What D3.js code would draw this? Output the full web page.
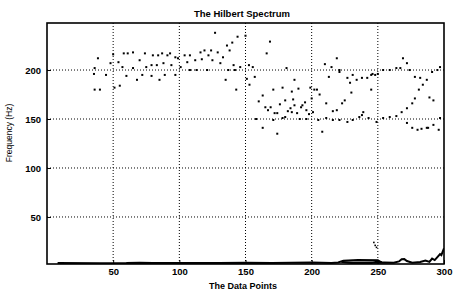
<!DOCTYPE html>
<html>
<head>
<meta charset="utf-8">
<script src="https://cdn.jsdelivr.net/npm/d3@7"></script>
<style>
  body { margin: 0; background: #fff; }
  svg text { font-family: "Liberation Sans", Arial, sans-serif; fill: #000; }
</style>
</head>
<body>
<div id="chart"></div>
<script>
// scatter points of the instantaneous frequency (data point index, Hz)
var ptX = [36, 36, 35.5, 38.5, 40, 44.6, 48, 50, 51, 54, 55, 57, 58, 60, 61, 65, 65, 68, 70, 72,
  74, 75, 79, 79, 80, 83, 84, 85, 87, 88, 89, 91, 93, 94, 97, 97, 99, 101, 104, 106,
  108, 108, 112, 113, 116, 117, 119, 121, 122, 124, 125, 127, 129, 131, 133, 135, 136, 137, 138, 140,
  141, 142, 143, 144, 146, 150, 151, 152.6, 153, 155.5, 157, 163, 163, 165, 166, 167, 168.5, 169, 171, 171,
  172, 174, 174, 178, 178, 180, 180, 181, 184, 185, 185, 187, 187, 189, 190, 191, 193, 195, 196, 199,
  200, 201, 202, 204, 205, 206, 208, 210, 211, 211, 213, 215, 216, 216, 219, 219, 221, 221, 221, 223,
  225, 227, 227, 229, 230, 231, 231, 234, 236, 238, 238, 239, 242, 243, 245, 245, 246, 248, 249, 250,
  254, 254, 259, 259, 264, 264, 267, 268, 269, 272, 272, 272, 274, 276, 276, 278, 278, 280, 281, 282,
  283, 284, 287, 287, 288, 289, 291, 292, 292, 295, 296, 297, 297,
  158, 160, 176, 182, 186, 192, 196, 198];
var ptY = [202, 180, 196, 212, 180, 195, 207, 216, 182, 208, 184, 203, 217, 194, 217, 218, 202, 190, 210, 195,
  217, 203, 194, 205, 215, 205, 215, 190, 217, 207, 195, 215, 217, 205, 213, 195, 212, 203, 215, 208,
  215, 200, 210, 200, 218, 211, 220, 200, 215, 220, 210, 238, 218, 207, 213, 190, 225, 200, 220, 228,
  205, 200, 180, 234, 203, 235, 191, 205, 185, 203, 193, 174, 141, 162, 217, 159, 229, 162, 180, 149,
  156, 156, 135, 182, 151, 152, 169, 202, 161, 157, 178, 164, 190, 156, 181, 150, 164, 167, 159, 182,
  171, 157, 180, 180, 149, 175, 137, 206, 166, 151, 193, 203, 149, 158, 159, 212, 149, 198, 200, 166,
  169, 147, 192, 187, 177, 149, 195, 190, 152, 154, 192, 157, 192, 151, 180, 195, 196, 195, 147, 196,
  151, 200, 152, 200, 153, 202, 202, 157, 212, 161, 146, 207, 200, 166, 141, 171, 193, 139, 180, 192,
  140, 185, 190, 141, 141, 172, 198, 169, 144, 200, 139, 151, 203,
  150, 168, 165, 158, 170, 162, 150, 155];

// low-frequency component hugging the bottom axis (with its loops)
var lowX = [8, 40, 60, 70, 80, 100, 130, 150, 170, 200, 215, 220, 224, 235, 250, 252, 245, 230, 222,
  228, 240, 255, 262, 266, 268, 270, 272, 276, 282, 286, 289, 291, 293, 295, 297, 298, 300];
var lowY = [2.9, 2.8, 3.0, 3.4, 2.9, 3.0, 2.9, 3.3, 3.1, 3.5, 3.1, 3.6, 5.2, 6.2, 5.8, 4.2, 3.1, 3.0, 4.2,
  3.4, 3.2, 3.6, 3.2, 4.6, 6.8, 7.0, 5.0, 3.4, 4.0, 5.6, 4.2, 7.5, 6.0, 9.0, 12, 11, 18];

var xTicks = [50, 100, 150, 200, 250, 300];
var yTicks = [50, 100, 150, 200];

var W = 454, H = 292;
var margin = { left: 47, right: 10, top: 23, bottom: 28 };

var svg = d3.select('#chart').append('svg')
  .attr('width', W).attr('height', H);

var x = d3.scaleLinear().domain([0, 300]).range([margin.left, W - margin.right]);
var y = d3.scaleLinear().domain([2, 248]).range([H - margin.bottom, margin.top]);

// dotted grid
svg.append('g').selectAll('line').data(xTicks.slice(0, -1)).enter().append('line')
  .attr('x1', function (d) { return x(d); }).attr('x2', function (d) { return x(d); })
  .attr('y1', y(2)).attr('y2', y(248))
  .attr('stroke', '#000').attr('stroke-width', 1).attr('stroke-dasharray', '1,2');
svg.append('g').selectAll('line').data(yTicks).enter().append('line')
  .attr('y1', function (d) { return y(d); }).attr('y2', function (d) { return y(d); })
  .attr('x1', x(0)).attr('x2', x(300))
  .attr('stroke', '#000').attr('stroke-width', 1).attr('stroke-dasharray', '1,2');

svg.append('clipPath').attr('id', 'plot').append('rect')
  .attr('x', x(0)).attr('y', y(248)).attr('width', x(300) - x(0)).attr('height', y(2) - y(248));

// low component line
var pts = lowX.map(function (d, i) { return [d, lowY[i]]; });
svg.append('path')
  .attr('clip-path', 'url(#plot)')
  .attr('d', d3.line().x(function (d) { return x(d[0]); }).y(function (d) { return y(d[1]); })(pts))
  .attr('fill', 'none').attr('stroke', '#000').attr('stroke-width', 2);

// a few stray points near 250
var strayX = [247, 248, 249];
var strayY = [24, 21, 19];
svg.append('g').selectAll('rect').data(strayX).enter().append('rect')
  .attr('x', function (d) { return x(d) - 0.8; })
  .attr('y', function (d, i) { return y(strayY[i]) - 0.8; })
  .attr('width', 1.6).attr('height', 1.6).attr('fill', '#000');

// scatter dots
svg.append('g').selectAll('rect').data(ptX).enter().append('rect')
  .attr('x', function (d) { return x(d) - 1; })
  .attr('y', function (d, i) { return y(ptY[i]) - 1; })
  .attr('width', 2).attr('height', 2).attr('fill', '#000');

// frame
svg.append('rect')
  .attr('x', x(0)).attr('y', y(248)).attr('width', x(300) - x(0)).attr('height', y(2) - y(248))
  .attr('fill', 'none').attr('stroke', '#000').attr('stroke-width', 1.6);

// axes with inward ticks
var xAxis = d3.axisBottom(x).tickValues(xTicks).tickSize(-4).tickPadding(4).tickFormat(d3.format('d'));
var yAxis = d3.axisLeft(y).tickValues(yTicks).tickSize(-4).tickPadding(6).tickFormat(d3.format('d'));

var gx = svg.append('g').attr('transform', 'translate(0,' + y(2) + ')').call(xAxis);
var gy = svg.append('g').attr('transform', 'translate(' + x(0) + ',0)').call(yAxis);
[gx, gy].forEach(function (g) {
  g.select('.domain').remove();
  g.selectAll('text').attr('font-size', 9.5).attr('font-weight', 'bold')
    .attr('font-family', '"Liberation Sans", Arial, sans-serif');
});

svg.append('text').attr('x', 242).attr('y', 17)
  .attr('text-anchor', 'middle').attr('font-size', 9.5).attr('font-weight', 'bold')
  .text('The Hilbert Spectrum');

svg.append('text').attr('x', 243).attr('y', 289)
  .attr('text-anchor', 'middle').attr('font-size', 9).attr('font-weight', 'bold')
  .text('The Data Points');

svg.append('text').attr('transform', 'translate(12,133) rotate(-90)')
  .attr('text-anchor', 'middle').attr('font-size', 8.5)
  .text('Frequency (Hz)');
</script>
</body>
</html>
